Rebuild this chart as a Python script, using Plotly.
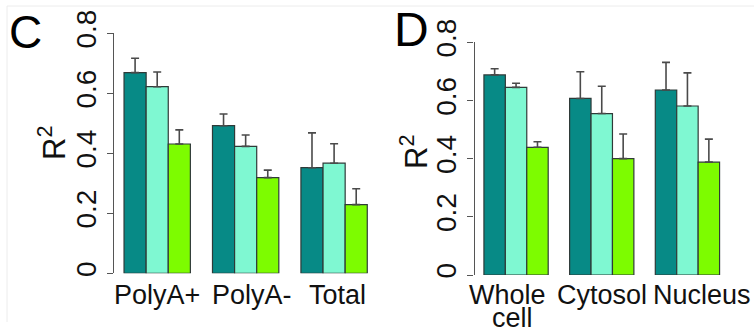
import plotly.graph_objects as go

# ---------------- data ----------------
cats_c = ["PolyA+", "PolyA-", "Total"]
cats_d = ["Whole cell", "Cytosol", "Nucleus"]
series = ["Series 1", "Series 2", "Series 3"]
colors = ["#078a86", "#7ff8d2", "#7dfc00"]

c_s1 = [0.669, 0.492, 0.352]
c_s2 = [0.622, 0.423, 0.367]
c_s3 = [0.431, 0.319, 0.229]
c_s1_top = [0.717, 0.531, 0.468]
c_s2_top = [0.671, 0.461, 0.432]
c_s3_top = [0.478, 0.344, 0.282]

d_s1 = [0.688, 0.607, 0.636]
d_s2 = [0.645, 0.555, 0.581]
d_s3 = [0.439, 0.400, 0.388]
d_s1_top = [0.709, 0.699, 0.731]
d_s2_top = [0.659, 0.649, 0.695]
d_s3_top = [0.458, 0.485, 0.467]

y_ticks = [0, 0.2, 0.4, 0.6, 0.8]
y_ticklabels = ["0", "0.2", "0.4", "0.6", "0.8"]

W, H = 754, 330
FONT = "Liberation Sans, Arial, sans-serif"

fig = go.Figure()

panels = [
    ("x", "y", cats_c, [c_s1, c_s2, c_s3], [c_s1_top, c_s2_top, c_s3_top]),
    ("x2", "y2", cats_d, [d_s1, d_s2, d_s3], [d_s1_top, d_s2_top, d_s3_top]),
]
for xa, ya, cats, vals, tops in panels:
    for i in range(3):
        err = [t - v for t, v in zip(tops[i], vals[i])]
        fig.add_trace(go.Bar(
            x=cats, y=vals[i], name=series[i], xaxis=xa, yaxis=ya,
            marker=dict(color=colors[i], line=dict(color="#2f3a38", width=1.2)),
            error_y=dict(type="data", array=err, arrayminus=[0] * len(err),
                         symmetric=False, color="#4a4a4a", thickness=1.6, width=4),
            showlegend=False,
        ))


def px_x(p):
    return p / W


def px_y(p):
    return 1 - p / H


yaxis_common = dict(
    range=[0, 0.8], tickvals=y_ticks, ticktext=y_ticklabels, tickangle=-90,
    showline=True, linecolor="#555555", linewidth=1.2,
    ticks="outside", ticklen=6, tickcolor="#555555", tickwidth=1.2,
    showgrid=False, zeroline=False, automargin=False,
    tickfont=dict(family=FONT, size=28, color="#111111"),
)
xaxis_common = dict(
    range=[-0.485, 2.485], showline=False, showgrid=False, zeroline=False,
    showticklabels=False, ticks="", type="category", automargin=False,
)

fig.update_layout(
    width=W, height=H, margin=dict(l=0, r=0, t=0, b=0, autoexpand=False),
    paper_bgcolor="white", plot_bgcolor="white",
    barmode="group", bargap=0.25, bargroupgap=0,
    xaxis=dict(domain=[px_x(114.3), px_x(377.0)], anchor="y", **xaxis_common),
    yaxis=dict(domain=[px_y(273.3), px_y(33.3)], anchor="x", **yaxis_common),
    xaxis2=dict(domain=[px_x(474.5), px_x(729.0)], anchor="y2", **xaxis_common),
    yaxis2=dict(domain=[px_y(275.0), px_y(42.3)], anchor="x2", **yaxis_common),
)

# small horizontal nudges of the category labels seen in the original (pixels)
label_shift_c = [0, 6, 3]
label_shift_d = [[-9, -4], [0], [15]]

annotations = []
for xa, cats, shifts in (("x", cats_c, [[s] for s in label_shift_c]),
                         ("x2", cats_d, label_shift_d)):
    for c, sh in zip(cats, shifts):
        for li, line in enumerate(c.split(" ")):
            annotations.append(dict(
                x=c, xref=xa, y=px_y(295 + 23 * li), yref="paper",
                text=line, showarrow=False, xanchor="center", yanchor="middle",
                xshift=sh[li],
                font=dict(family=FONT, size=27, color="#111111"),
            ))
# R^2 labels
for xp, yp in ((52, 143), (414, 152)):
    annotations.append(dict(x=px_x(xp), y=px_y(yp), xref="paper", yref="paper",
                            text="R<sup>2</sup>", textangle=-90, showarrow=False,
                            xanchor="center", yanchor="middle",
                            font=dict(family=FONT, size=31, color="#111111")))
# panel letters
annotations.append(dict(x=px_x(25.5), y=px_y(31.5), xref="paper", yref="paper",
                        text="C", showarrow=False, xanchor="center", yanchor="middle",
                        font=dict(family=FONT, size=46, color="#000000")))
annotations.append(dict(x=px_x(411.5), y=px_y(29.5), xref="paper", yref="paper",
                        text="D", showarrow=False, xanchor="center", yanchor="middle",
                        font=dict(family=FONT, size=48, color="#000000")))
fig.update_layout(annotations=annotations)

# faint frame lines of the original image
fig.add_shape(type="line", xref="paper", yref="paper",
              x0=px_x(7), x1=1, y0=px_y(6), y1=px_y(6),
              line=dict(color="#ececec", width=1))
fig.add_shape(type="line", xref="paper", yref="paper",
              x0=px_x(7), x1=px_x(7), y0=px_y(6), y1=px_y(322),
              line=dict(color="#ececec", width=1))

fig.write_html(
    "out.html",
    config={"displayModeBar": False},
    post_script="document.body.style.margin='0';document.body.style.overflow='hidden';",
)
